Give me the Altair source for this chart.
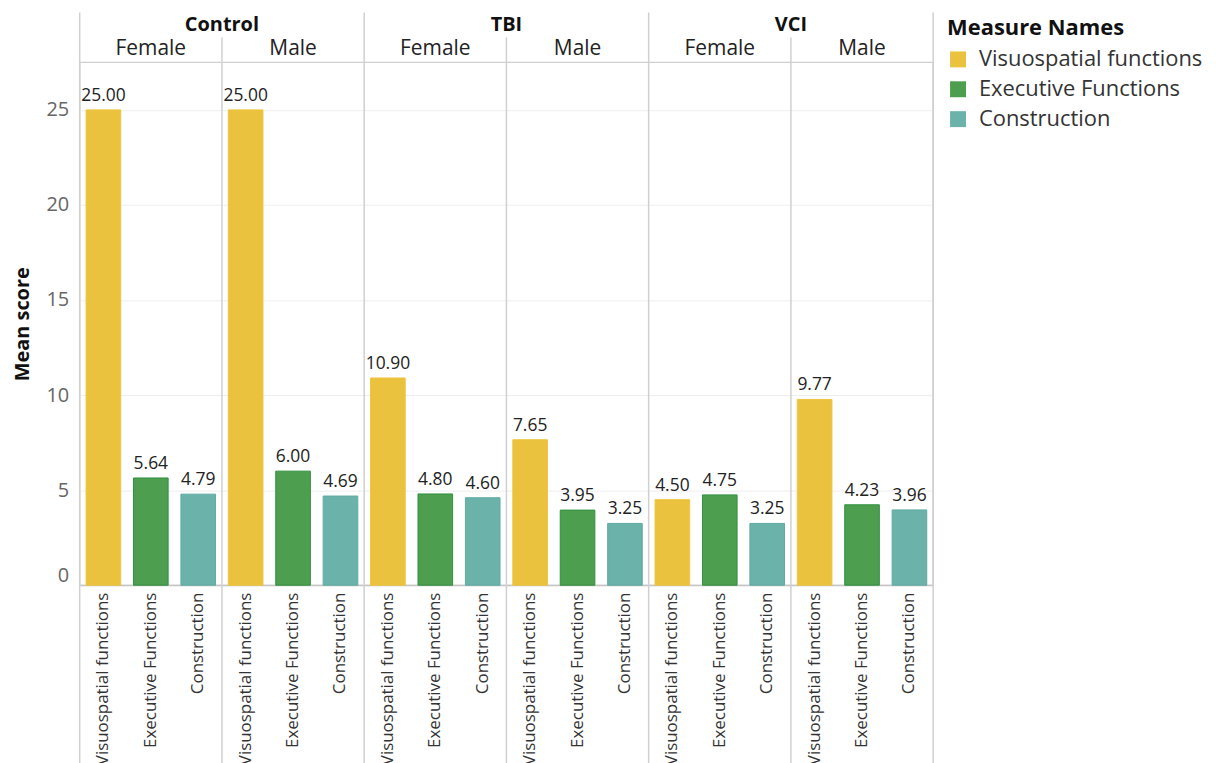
import altair as alt
import pandas as pd

groups = ["Control", "TBI", "VCI"]
sexes = ["Female", "Male"]
measures = ["Visuospatial functions", "Executive Functions", "Construction"]
colors = ["#EBC23D", "#4E9E4F", "#6AB2AA"]
edge_colors = ["#EEC53A", "#2F9040", "#5FAAA2"]

# values per (group, sex) in measure order
control_female = [25.00, 5.64, 4.79]
control_male = [25.00, 6.00, 4.69]
tbi_female = [10.90, 4.80, 4.60]
tbi_male = [7.65, 3.95, 3.25]
vci_female = [4.50, 4.75, 3.25]
vci_male = [9.77, 4.23, 3.96]

series = {
    ("Control", "Female"): control_female,
    ("Control", "Male"): control_male,
    ("TBI", "Female"): tbi_female,
    ("TBI", "Male"): tbi_male,
    ("VCI", "Female"): vci_female,
    ("VCI", "Male"): vci_male,
}

rows = []
keys = []
for (g, s), vals in series.items():
    for m, v in zip(measures, vals):
        k = f"{g}|{s}|{m}"
        keys.append(k)
        rows.append({"Group": g, "Sex": s, "Measure": m, "Value": v, "Key": k})
df = pd.DataFrame(rows)

FONT = "Open Sans"
W = 857
H = 525
LINE = "#d0d0d0"

xscale = alt.Scale(domain=keys, paddingInner=0, paddingOuter=0)
x_axis = alt.Axis(title=None, labelAngle=-90, labelFontSize=17,
                  labelColor="#333333", ticks=False, domainColor="#bbbbbb",
                  labelPadding=7, labelLimit=300,
                  labelExpr="split(datum.label, '|')[2]")
y = alt.Y("Value:Q", scale=alt.Scale(domain=[0, 27.5], nice=False),
          axis=alt.Axis(values=[0, 5, 10, 15, 20, 25], grid=True,
                        gridColor="#eeeeee", ticks=False, domain=False,
                        labelFontSize=20, labelColor="#666666", labelPadding=11,
                        labelFlush=True,
                        title="Mean score", titleFontSize=20,
                        titleFontWeight="bold", titleColor="#111111",
                        titlePadding=14))

base = alt.Chart(df)

bars = base.mark_bar(width=alt.RelativeBandSize(0.73), strokeWidth=1).encode(
    x=alt.X("Key:N", scale=xscale, axis=x_axis, sort=keys),
    y=y,
    color=alt.Color("Measure:N", sort=measures,
                    scale=alt.Scale(domain=measures, range=colors),
                    legend=alt.Legend(title="Measure Names", orient="none",
                                      legendX=871, legendY=-44)),
    stroke=alt.Stroke("Measure:N",
                      scale=alt.Scale(domain=measures, range=edge_colors),
                      legend=None),
)

xs = alt.X("Key:N", scale=xscale, sort=keys)

labels = base.mark_text(baseline="bottom", dy=-5, fontSize=17.5,
                        color="#222222", font=FONT).encode(
    x=xs, y=y, text=alt.Text("Value:Q", format=".2f"))

rule_group = base.transform_filter(
    "datum.Measure == 'Visuospatial functions' && datum.Sex == 'Female'"
).mark_rule(color=LINE, strokeWidth=1.5).encode(
    x=alt.X("Key:N", scale=xscale, sort=keys, bandPosition=0),
    y=alt.value(-50), y2=alt.value(H + 185))

rule_sex = base.transform_filter(
    "datum.Measure == 'Visuospatial functions' && datum.Sex == 'Male'"
).mark_rule(color=LINE, strokeWidth=1.5).encode(
    x=alt.X("Key:N", scale=xscale, sort=keys, bandPosition=0),
    y=alt.value(-25), y2=alt.value(H + 185))

rule_end = base.transform_filter(
    "datum.Measure == 'Construction' && datum.Sex == 'Male' && datum.Group == 'VCI'"
).mark_rule(color=LINE, strokeWidth=1.5).encode(
    x=alt.X("Key:N", scale=xscale, sort=keys, bandPosition=1),
    y=alt.value(-50), y2=alt.value(H + 185))

sex_head = base.transform_filter(
    "datum.Measure == 'Executive Functions'"
).mark_text(fontSize=21, color="#222222", font=FONT, baseline="middle").encode(
    x=xs, y=alt.value(-13), text="Sex:N")

group_head = base.transform_filter(
    "datum.Measure == 'Construction' && datum.Sex == 'Female'"
).mark_text(fontSize=20, fontWeight="bold", color="#111111", font=FONT,
            baseline="middle").encode(
    x=alt.X("Key:N", scale=xscale, sort=keys, bandPosition=1),
    y=alt.value(-38), text="Group:N")

chart = alt.layer(
    rule_group, rule_sex, rule_end, bars, labels, sex_head, group_head
).properties(
    width=W, height=H,
    padding={"left": 4, "top": 2, "right": 5, "bottom": 5},
).configure(font=FONT).configure_view(
    stroke=LINE, strokeWidth=1.5
).configure_legend(
    titleFontSize=22, titleFontWeight="bold", titleColor="#111111",
    labelFontSize=22, labelColor="#333333", symbolType="square",
    symbolSize=256, symbolStrokeWidth=0, labelLimit=400,
    rowPadding=8, titlePadding=8, labelOffset=10,
)

chart.save("out.html", embed_options={"renderer": "svg", "actions": False})
